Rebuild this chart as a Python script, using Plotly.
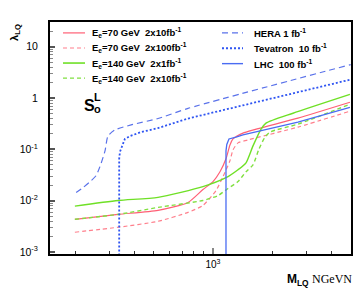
import plotly.graph_objects as go

# ---------------- data ----------------
# E_e = 70 GeV, 2x10 fb^-1 (red solid)
m_r70a = [199, 330, 526, 747, 889, 1000, 1085, 1164, 1219, 1263, 1324, 1419, 2698, 4955]
l_r70a = [0.00434, 0.00542, 0.00648, 0.00925, 0.0165, 0.0236, 0.0367, 0.0655, 0.122, 0.160, 0.182, 0.208, 0.406, 0.828]

# E_e = 70 GeV, 2x100 fb^-1 (red dashed)
m_r70b = [199, 330, 526, 747, 889, 1036, 1124, 1219, 1263, 1339, 1506, 2698, 4955]
l_r70b = [0.00243, 0.00304, 0.00397, 0.00593, 0.0081, 0.0158, 0.0294, 0.060, 0.0977, 0.134, 0.153, 0.272, 0.555]

# E_e = 140 GeV, 2x1 fb^-1 (green solid)
m_g140a = [199, 330, 526, 889, 1164, 1339, 1471, 1596, 1754, 1858, 2547, 4955]
l_g140a = [0.00785, 0.0101, 0.0116, 0.0188, 0.0281, 0.0402, 0.0548, 0.117, 0.249, 0.325, 0.507, 1.18]

# E_e = 140 GeV, 2x10 fb^-1 (green dashed)
m_g140b = [199, 330, 526, 889, 1060, 1191, 1339, 1471, 1596, 1712, 1837, 1947, 2698, 4955]
l_g140b = [0.00434, 0.00542, 0.0074, 0.0101, 0.0126, 0.0173, 0.0236, 0.0367, 0.0501, 0.102, 0.174, 0.218, 0.311, 0.757]

# HERA 1 fb^-1 (blue dashed)
m_hera = [202, 219, 238, 255, 270, 283, 293, 318, 384, 526, 747, 5000]
l_hera = [0.0144, 0.018, 0.0236, 0.0308, 0.0525, 0.0935, 0.182, 0.24, 0.30, 0.40, 0.63, 4.5]

# Tevatron 10 fb^-1 (blue dotted)
m_tev = [334, 334, 337, 345, 357, 379, 432, 526, 747, 5000]
l_tev = [0.0005, 0.0655, 0.0895, 0.117, 0.160, 0.182, 0.218, 0.260, 0.40, 2.3]

# LHC 100 fb^-1 (blue solid)
m_lhc = [1164, 1164, 1175, 1205, 1309, 1419, 2698, 4955]
l_lhc = [0.0005, 0.0935, 0.125, 0.160, 0.174, 0.191, 0.340, 0.662]

names_left = ["E<sub>e</sub>=70 GeV  2x10fb<sup>-1</sup>",
              "E<sub>e</sub>=70 GeV  2x100fb<sup>-1</sup>",
              "E<sub>e</sub>=140 GeV  2x1fb<sup>-1</sup>",
              "E<sub>e</sub>=140 GeV  2x10fb<sup>-1</sup>"]
names_right = ["HERA 1 fb<sup>-1</sup>",
               "Tevatron  10 fb<sup>-1</sup>",
               "LHC  100 fb<sup>-1</sup>"]

y_tickvals = [0.001, 0.01, 0.1, 1, 10]
y_ticktext = ["10<sup>-3</sup>", "10<sup>-2</sup>", "10<sup>-1</sup>", "1", "10"]
x_tickvals = [1000]
x_ticktext = ["10<sup>3</sup>"]
x_minor = [200, 300, 400, 500, 600, 700, 800, 900, 2000, 3000, 4000]
y_minor = [k * 10.0 ** e for e in range(-3, 2) for k in range(2, 10)]

# ---------------- styles ----------------
RED = "#ff5f75"
RED_D = "#ff7f8c"
GREEN = "#6fe026"
GREEN_D = "#80e040"
BLUE_H = "#5a72ea"
BLUE_T = "#2f55f2"
BLUE_L = "#4a6cf2"
FONT = "Liberation Sans"

series = [
    (m_r70a, l_r70a, RED, "solid", 1.2, "spline"),
    (m_r70b, l_r70b, RED_D, "4px,3px", 1.2, "spline"),
    (m_g140a, l_g140a, GREEN, "solid", 1.4, "spline"),
    (m_g140b, l_g140b, GREEN_D, "4px,3px", 1.4, "spline"),
    (m_hera, l_hera, BLUE_H, "6px,4px", 1.2, "spline"),
    (m_tev, l_tev, BLUE_T, "2px,2px", 1.8, "linear"),
    (m_lhc, l_lhc, BLUE_L, "solid", 1.3, "linear"),
]

fig = go.Figure()
for xs, ys, col, dash, w, shp in series:
    line = dict(color=col, dash=dash, width=w, shape=shp)
    if shp == "spline":
        line["smoothing"] = 0.6
    fig.add_trace(go.Scatter(x=xs, y=ys, mode="lines", line=line,
                             showlegend=False, hoverinfo="skip"))

L, R, T, B = 42, 18, 12, 45
W, H = 361, 291
PW, PH = W - L - R, H - T - B


def px(x):
    return (x - L) / PW


def py(y):
    return (H - B - y) / PH


shapes = []
annotations = []
# left legend column
left_styles = [(RED, "solid", 1.2), (RED_D, "4px,3px", 1.2), (GREEN, "solid", 1.6), (GREEN_D, "4px,3px", 1.4)]
for i, (nm, (col, dash, w)) in enumerate(zip(names_left, left_styles)):
    yy = 23 + i * 15.2
    shapes.append(dict(type="line", xref="paper", yref="paper",
                       x0=px(55), x1=px(77), y0=py(yy), y1=py(yy),
                       line=dict(color=col, dash=dash, width=w)))
    annotations.append(dict(text="<b>" + nm + "</b>", xref="paper", yref="paper",
                            x=px(82), y=py(yy), xanchor="left", yanchor="middle",
                            showarrow=False, font=dict(family=FONT, size=9.5, color="black")))
right_styles = [(BLUE_H, "6px,4px", 1.2), (BLUE_T, "2px,2px", 1.8), (BLUE_L, "solid", 1.4)]
for i, (nm, (col, dash, w)) in enumerate(zip(names_right, right_styles)):
    yy = 23 + i * 15.5
    shapes.append(dict(type="line", xref="paper", yref="paper",
                       x0=px(214), x1=px(235), y0=py(yy), y1=py(yy),
                       line=dict(color=col, dash=dash, width=w)))
    annotations.append(dict(text="<b>" + nm + "</b>", xref="paper", yref="paper",
                            x=px(244), y=py(yy), xanchor="left", yanchor="middle",
                            showarrow=False, font=dict(family=FONT, size=9.5, color="black")))

# S_o^L label
annotations.append(dict(text="<b>S</b>", xref="paper", yref="paper", x=px(74), y=py(96),
                        xanchor="left", yanchor="middle", showarrow=False,
                        font=dict(family=FONT, size=16, color="black")))
annotations.append(dict(text="<b>L</b>", xref="paper", yref="paper", x=px(84), y=py(88),
                        xanchor="left", yanchor="middle", showarrow=False,
                        font=dict(family=FONT, size=11, color="black")))
annotations.append(dict(text="<b>o</b>", xref="paper", yref="paper", x=px(84), y=py(100),
                        xanchor="left", yanchor="middle", showarrow=False,
                        font=dict(family=FONT, size=11, color="black")))
# axis titles
annotations.append(dict(text="<b>λ<sub>LQ</sub></b>", xref="paper", yref="paper",
                        x=px(7), y=py(23), xanchor="center", yanchor="middle",
                        textangle=-90, showarrow=False,
                        font=dict(family=FONT, size=11, color="black")))
annotations.append(dict(text="<b>M<sub>LQ</sub></b> <span style='font-family:Liberation Serif'>NGeVN</span>",
                        xref="paper", yref="paper", x=px(346), y=py(272),
                        xanchor="right", yanchor="middle", showarrow=False,
                        font=dict(family=FONT, size=12, color="black")))

fig.update_layout(
    width=W, height=H,
    margin=dict(l=L, r=R, t=T, b=B, pad=0),
    paper_bgcolor="white", plot_bgcolor="white",
    showlegend=False,
    shapes=shapes, annotations=annotations,
    font=dict(family=FONT, color="black"),
)
fig.update_xaxes(type="log", range=[2.1726, 3.7005],
                 tickmode="array", tickvals=x_tickvals, ticktext=x_ticktext,
                 ticks="inside", ticklen=6, tickcolor="#888", tickwidth=1.5,
                 tickfont=dict(family=FONT, size=10, color="black"),
                 ticklabelstandoff=0,
                 minor=dict(tickmode="array", tickvals=x_minor, ticks="inside",
                            ticklen=3, tickcolor="#333", tickwidth=1, showgrid=False),
                 showgrid=False, zeroline=False,
                 showline=True, linecolor="black", linewidth=2, mirror=True)
fig.update_yaxes(type="log", range=[-3.0386, 1.4831],
                 tickmode="array", tickvals=y_tickvals, ticktext=y_ticktext,
                 ticks="inside", ticklen=5, tickcolor="#555", tickwidth=1.5,
                 tickfont=dict(family=FONT, size=10.5, color="black"),
                 ticklabelstandoff=8,
                 minor=dict(tickmode="array", tickvals=y_minor, ticks="inside",
                            ticklen=3, tickcolor="#888", tickwidth=1, showgrid=False),
                 showgrid=False, zeroline=False,
                 showline=True, linecolor="black", linewidth=2, mirror=True)

fig.write_html("out.html")
